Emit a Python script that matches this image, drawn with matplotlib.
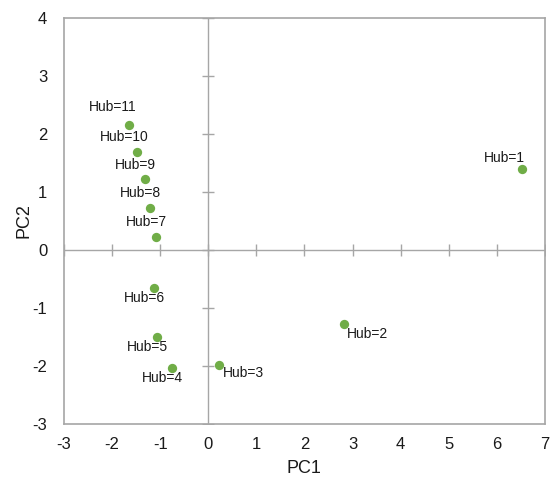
import matplotlib.pyplot as plt

plt.rcParams['font.family'] = ['Liberation Sans', 'DejaVu Sans']
plt.rcParams['axes.unicode_minus'] = False

# PCA scores per hub
hubs = ['Hub=1', 'Hub=2', 'Hub=3', 'Hub=4', 'Hub=5', 'Hub=6',
        'Hub=7', 'Hub=8', 'Hub=9', 'Hub=10', 'Hub=11']
pc1 = [6.53, 2.83, 0.23, -0.75, -1.06, -1.12, -1.08, -1.21, -1.31, -1.48, -1.64]
pc2 = [1.40, -1.28, -1.98, -2.03, -1.50, -0.66, 0.22, 0.72, 1.22, 1.69, 2.16]

# label offsets (points) from each marker
offsets = [(-13, 8), (17, -7), (17, -6), (-7, -7), (-7, -7), (-7, -7),
           (-7, 11), (-7, 11), (-7, 10), (-9, 11), (-12, 13)]

xticks = list(range(-3, 8))
yticks = list(range(-3, 5))

fig = plt.figure(figsize=(5.52, 4.82), dpi=100)
ax = fig.add_axes([0.116, 0.120, 0.871, 0.843])

grey = '#a6a6a6'
for s in ax.spines.values():
    s.set_color(grey)
    s.set_linewidth(1.2)

# zero axes with crossing tick marks
ax.axhline(0, color=grey, lw=1, zorder=1)
ax.axvline(0, color=grey, lw=1, zorder=1)
ax.plot(xticks, [0] * len(xticks), ls='none', marker='|', ms=9, mew=1,
        color=grey, zorder=1)
ax.plot([0] * len(yticks), yticks, ls='none', marker='_', ms=9, mew=1,
        color=grey, zorder=1)

ax.scatter(pc1, pc2, s=45, color='#70ad47', zorder=3, linewidths=0)

for name, x, y, (dx, dy) in zip(hubs, pc1, pc2, offsets):
    ax.annotate(name, (x, y), xytext=(dx, dy), textcoords='offset points',
                ha='center', va='center', fontsize=10, color='#1a1a1a')

ax.set_xlim(-3, 7)
ax.set_ylim(-3, 4)
ax.set_xticks(xticks)
ax.set_yticks(yticks)
ax.tick_params(length=0, labelsize=12, colors='#1a1a1a')
ax.tick_params(axis='x', pad=9)
ax.tick_params(axis='y', pad=12)
ax.set_xlabel('PC1', fontsize=13, labelpad=6, color='#1a1a1a')
ax.set_ylabel('PC2', fontsize=13, labelpad=0, color='#1a1a1a')

fig.savefig('out.png', dpi=100)
